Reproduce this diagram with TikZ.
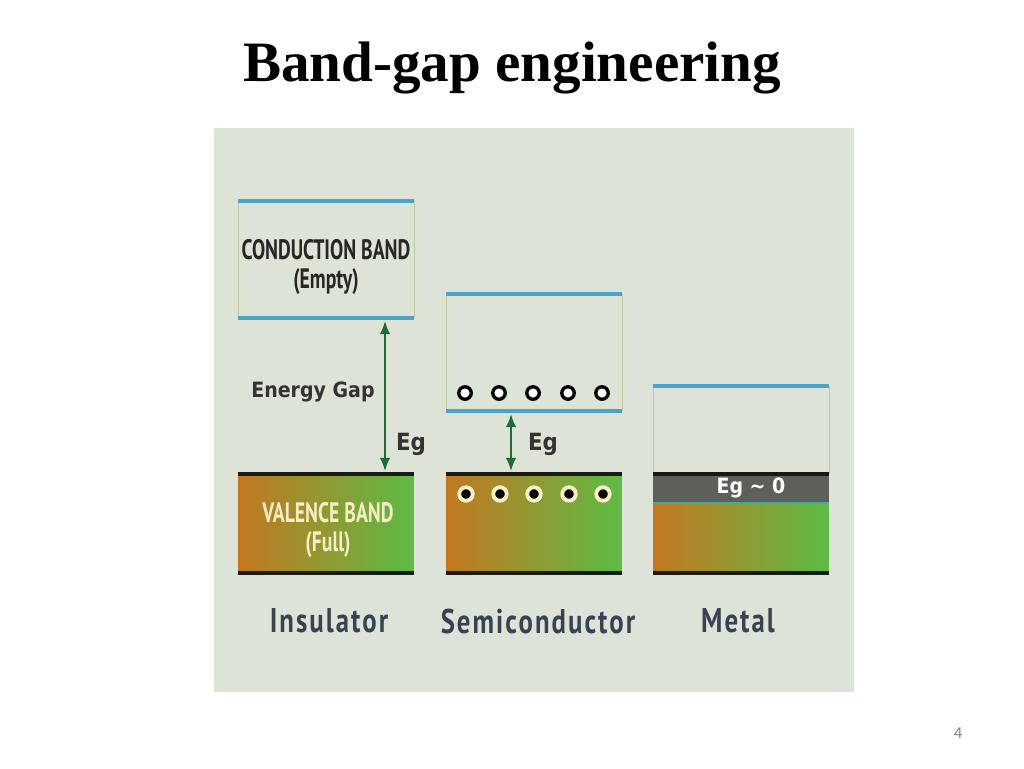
\documentclass[tikz,border=0pt]{standalone}
\usepackage{fontspec}
\setmainfont{Liberation Serif}
\newfontfamily\bandfont[FakeStretch=0.7]{PT Sans}
\newfontfamily\namefont[FakeStretch=0.78,LetterSpace=6]{PT Sans}
\newfontfamily\gapfont[FakeStretch=0.9]{DejaVu Sans}
\newfontfamily\pagefont{Carlito}
\usepackage{tikz}
\usetikzlibrary{arrows,arrows.meta}
\tikzset{>=latex'}
\definecolor{panel}{RGB}{221,227,214}
\definecolor{cbline}{RGB}{74,163,200}
\definecolor{gapgreen}{RGB}{28,108,52}
\definecolor{warm}{RGB}{194,120,32}
\definecolor{cool}{RGB}{93,187,69}
\definecolor{labelgray}{RGB}{58,66,82}
\definecolor{cream}{RGB}{248,238,196}
\definecolor{metalgap}{RGB}{92,96,88}
\definecolor{sideline}{RGB}{190,204,150}
\definecolor{tealline}{RGB}{60,170,175}
\tikzset{
	band/.style={minimum width=3.52cm,inner sep=0pt,outer sep=0pt},
	fullband/.style={band,shading=axis,left color=warm,right color=cool},
	bandedge/.style={line width=1.8pt,cbline},
	valedge/.style={line width=2.2pt,black!90},
	bandtext/.style={font=\bandfont\bfseries\fontsize{16}{16}\selectfont,align=center},
	gaptext/.style={font=\gapfont\bfseries\fontsize{12}{14}\selectfont,text=black!80},
	egtext/.style={font=\gapfont\bfseries\fontsize{13.5}{15}\selectfont,text=black!80},
	gaparrow/.style={{Latex[length=7.5pt,width=6pt]}-{Latex[length=7.5pt,width=6pt]},line width=1.1pt,gapgreen},
	hole/.style={circle,draw=black,fill=white,line width=1.9pt,minimum size=0.25cm,inner sep=0pt},
	electron/.style={circle,fill=black,draw=cream,line width=2.2pt,minimum size=0.27cm,inner sep=0pt},
	kind/.style={font=\namefont\bfseries\fontsize{19.5}{22}\selectfont,text=labelgray}
}

\begin{document}
\begin{tikzpicture}[x=0.02cm,y=-0.02cm]
	\useasboundingbox (0,0) rectangle (1024,768);
	\fill[panel] (214,128) rectangle (854,692);
	\node[font=\bfseries\fontsize{32.5}{38}\selectfont] (title) at (512,68) {Band-gap engineering};
	% insulator
	\node[band,minimum height=2.34cm] (ins cond) at (326,259.5) {};
	\draw[sideline] (ins cond.north west) -- (ins cond.south west) (ins cond.north east) -- (ins cond.south east);
	\draw[bandedge] (ins cond.north west) -- (ins cond.north east);
	\draw[bandedge] (ins cond.south west) -- (ins cond.south east);
	\node[bandtext,text=black!85] (ins cond text) at (326,267) {CONDUCTION BAND\\(Empty)};
	\node[fullband,minimum height=1.98cm] (ins val) at (326,523.5) {};
	\draw[valedge] (ins val.north west) -- (ins val.north east);
	\draw[valedge] (ins val.south west) -- (ins val.south east);
	\node[bandtext,text=cream] (ins val text) at (328,530) {VALENCE BAND\\(Full)};
	\coordinate (ins top) at (385,321);
	\coordinate (ins bot) at (385,471);
	\draw[gaparrow] (ins top) -- (ins bot);
	\node[gaptext] (energy gap) at (313,392) {Energy Gap};
	\node[egtext] (ins eg) at (411,444) {Eg};
	% semiconductor
	\node[band,minimum height=2.34cm] (semi cond) at (534,352.5) {};
	\draw[sideline] (semi cond.north west) -- (semi cond.south west) (semi cond.north east) -- (semi cond.south east);
	\draw[bandedge] (semi cond.north west) -- (semi cond.north east);
	\draw[bandedge] (semi cond.south west) -- (semi cond.south east);
	\node[fullband,minimum height=1.98cm] (semi val) at (534,523.5) {};
	\draw[valedge] (semi val.north west) -- (semi val.north east);
	\draw[valedge] (semi val.south west) -- (semi val.south east);
	\foreach \x [count=\i] in {465,499,533,568,602} {
		\node[hole] (hole\i) at (\x,393) {};
		\node[electron] (elec\i) at (\x+1,494) {};
	}
	\coordinate (semi top) at (511,414);
	\coordinate (semi bot) at (511,471);
	\draw[gaparrow] (semi top) -- (semi bot);
	\node[egtext] (semi eg) at (543,444) {Eg};
	% metal
	\node[band,minimum height=1.76cm] (met cond) at (741,430) {};
	\draw[sideline] (met cond.north west) -- (met cond.south west) (met cond.north east) -- (met cond.south east);
	\draw[bandedge] (met cond.north west) -- (met cond.north east);
	\node[band,minimum height=0.58cm,fill=metalgap] (met gap) at (741,488.5) {};
	\node[fullband,minimum height=1.4cm] (met val) at (741,538) {};
	\draw[line width=1.4pt,tealline] (met gap.south west) -- (met gap.south east);
	\draw[valedge] (met gap.north west) -- (met gap.north east);
	\draw[valedge] (met val.south west) -- (met val.south east);
	\node[gaptext,text=white] (met eg) at (751,488) {Eg \textasciitilde\ 0};
	% names
	\node[kind] (insulator) at (329,621) {Insulator};
	\node[kind] (semiconductor) at (538,621) {Semiconductor};
	\node[kind] (metal) at (738,621) {Metal};
	\node[font=\pagefont\fontsize{9.5}{11}\selectfont,text=gray] (page) at (958,733) {4};
\end{tikzpicture}
\end{document}
